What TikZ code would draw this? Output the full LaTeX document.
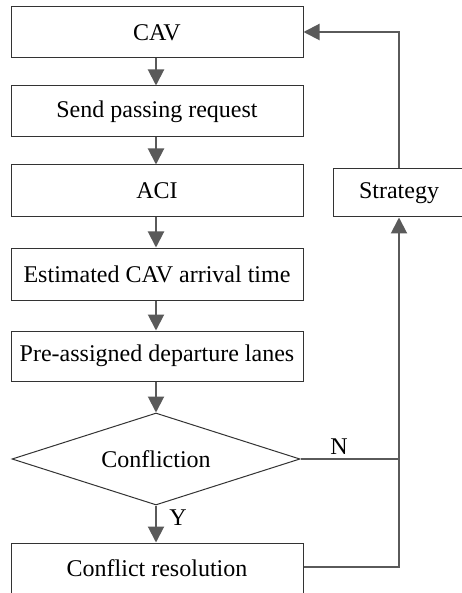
\documentclass[tikz,border=0pt]{standalone}
\usepackage{fontspec}
\setmainfont{Liberation Serif}
\usetikzlibrary{shapes.geometric,arrows.meta}
\definecolor{boxc}{HTML}{333333}
\definecolor{arrc}{HTML}{5A5A5A}
\begin{document}
\begin{tikzpicture}[x=1pt,y=-1pt,
  every node/.style={font=\fontsize{24}{28}\selectfont},
  procbox/.style={draw=boxc,line width=1pt,rectangle,minimum width=292pt,inner sep=0pt},
  decbox/.style={draw=boxc,line width=1pt,diamond,aspect=3.13,minimum width=288pt,minimum height=92pt,inner sep=0pt},
  flow/.style={draw=arrc,line width=2pt,-{Triangle[width=16pt,length=16pt]}},
  plain/.style={draw=arrc,line width=2pt}]
\useasboundingbox (0,0) rectangle (462,593);
\fill[white] (0,0) rectangle (462,593);
\node[procbox,minimum height=51pt] (cav) at (157,32.5) {CAV};
\node[procbox,minimum height=51pt] (send) at (157,111.5) {Send passing request};
\node[procbox,minimum height=52pt] (aci) at (157,191) {ACI};
\node[procbox,minimum height=52pt] (est) at (157,274) {Estimated CAV arrival time};
\node[procbox,minimum height=50pt] (pre) at (157,356) {Pre-assigned departure lanes};
\node[decbox] (dec) at (156,459) {Confliction};
\node[procbox,minimum height=51pt] (res) at (157,568.5) {Conflict resolution};
\node[draw=boxc,line width=1pt,rectangle,minimum width=132pt,minimum height=48pt,inner sep=0pt] (str) at (399,193) {Strategy};
\coordinate (j1) at (399,459);
\coordinate (j2) at (399,567);
\coordinate (j3) at (399,32);
\draw[flow] (cav.south -| 156,0) -- (send.north -| 156,0);
\draw[flow] (send.south -| 156,0) -- (aci.north -| 156,0);
\draw[flow] (aci.south -| 156,0) -- (est.north -| 156,0);
\draw[flow] (est.south -| 156,0) -- (pre.north -| 156,0);
\draw[flow] (pre.south -| 156,0) -- (dec.north);
\draw[flow] (dec.south) -- (res.north -| 156,0);
\draw[plain] (dec.east) -- (j1);
\draw[flow] (res.east |- j2) -- (j2) -- (str.south);
\draw[flow] (str.north) -- (j3) -- (cav.east |- j3);
\node[inner sep=0pt] (nlab) at (339,447) {N};
\node[inner sep=0pt] (ylab) at (178,518) {Y};
\end{tikzpicture}
\end{document}
